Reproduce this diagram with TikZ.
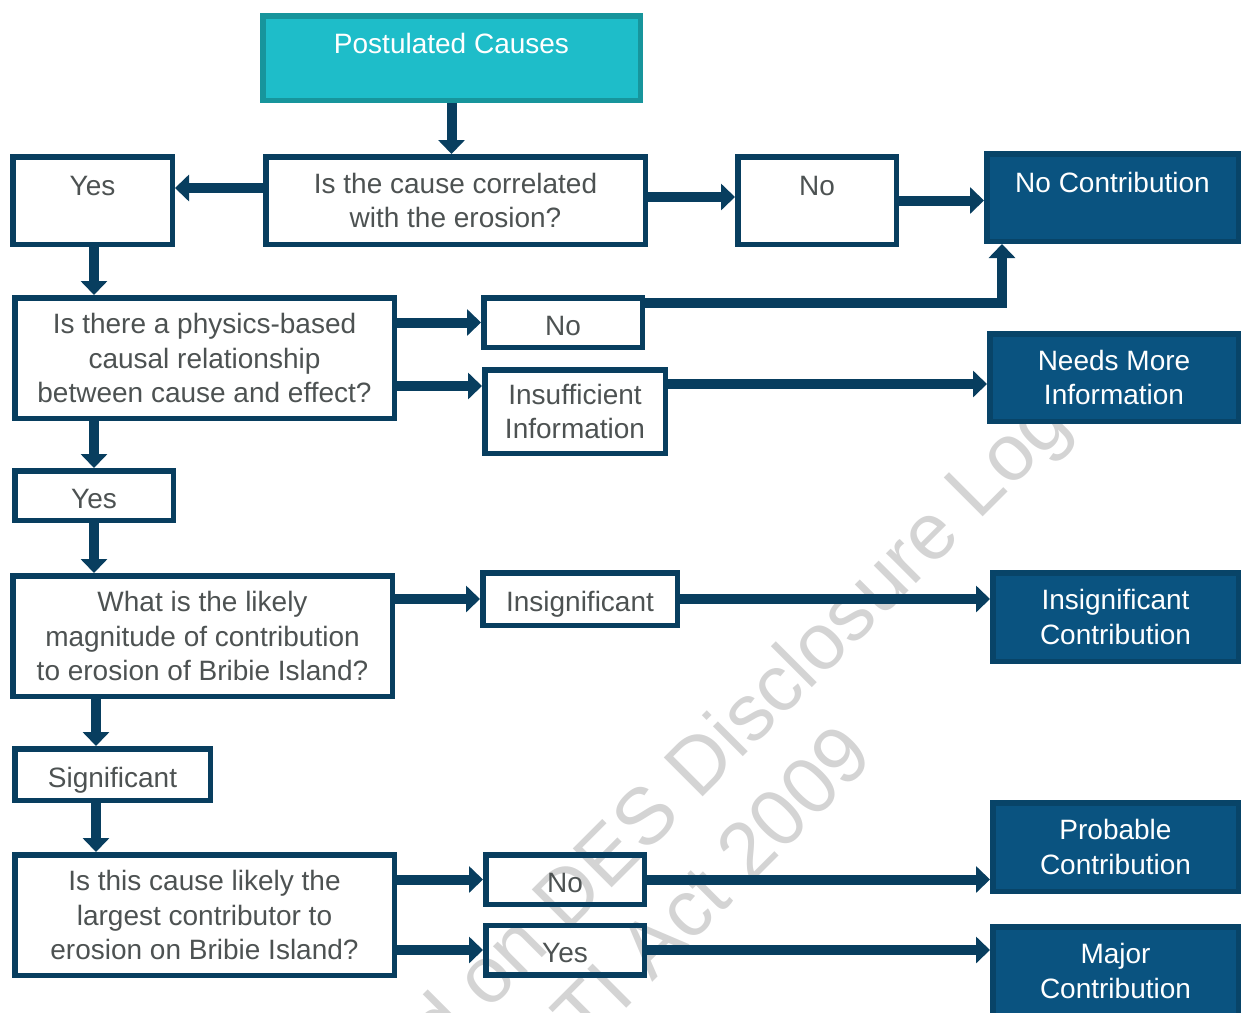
\documentclass[tikz,border=0pt]{standalone}
\usepackage{fontspec}
\setmainfont{Liberation Sans}
\usetikzlibrary{positioning,arrows.meta}
\definecolor{navy}{HTML}{083E5F}
\definecolor{deepblue}{HTML}{0A5380}
\definecolor{deepedge}{HTML}{084468}
\definecolor{cyanfill}{HTML}{1EBDC9}
\definecolor{cyanedge}{HTML}{17959C}
\definecolor{textgrey}{HTML}{4D5252}
\definecolor{markgrey}{HTML}{D4D4D4}
\newcommand\boxfont{\fontsize{28pt}{34.5pt}\selectfont}
\newcommand\stampfont{\fontsize{80pt}{95pt}\selectfont}
\tikzset{
  box/.style={draw=navy, line width=5.5pt, text=textgrey, align=center, inner sep=0pt, font=\boxfont},
  oneline/.style={text height=25pt, text depth=0pt},
  ask/.style={box, minimum width=379.5pt, minimum height=120.5pt},
  pick/.style={box, oneline, minimum width=158.5pt, minimum height=49.5pt},
  topline/.style={text height=38.25pt, text depth=49.25pt},
  verdict/.style={box, draw=deepedge, fill=deepblue, text=white, minimum width=245.5pt, minimum height=88.5pt},
  flow/.style={color=navy, line width=10pt, -{Triangle[width=26pt,length=14pt]}},
  stamp/.style={text=markgrey, font=\stampfont, rotate=45, anchor=base, inner sep=0pt}
}

\begin{document}
\begin{tikzpicture}[x=1pt,y=-1pt]
  \useasboundingbox (0,0) rectangle (1241,1012);
  \clip (0,0) rectangle (1241,1012);
  % watermark
  \node[stamp] (stamp_1) at (653.4,846.6) {Released on DES Disclosure Log};
  \node[stamp] (stamp_2) at (711.7,923.3) {RTI Act 2009};

  \node[box, fill=cyanfill, draw=cyanedge, text=white, minimum width=377.5pt,
        text height=37.25pt, text depth=47.25pt] (cause) at (451.5,58) {Postulated Causes};
  \node[box, minimum width=379.5pt, minimum height=87.5pt] (ask_1) at (455.5,200.5) {Is the cause correlated\\with the erosion?};
  \node[box, topline, minimum width=159.5pt] (yes_1) [left=88pt of ask_1] {Yes};
  \node[box, topline, minimum width=158.5pt] (no_1) [right=87pt of ask_1] {No};
  \node[verdict, topline, minimum width=251.5pt, minimum height=0pt] (none) at (1112.5,197.5) {No Contribution};

  \node[ask] (ask_2) at (204.5,358) {Is there a physics-based\\causal relationship\\between cause and effect?};
  \node[pick] (no_2) at (563,322.5) {No};
  \node[box, minimum width=180.5pt, minimum height=83.5pt] (short) at (575,411.5) {Insufficient\\Information};
  \node[verdict, minimum width=248.5pt, minimum height=87.5pt] (more) at (1114,377.5) {Needs More\\Information};
  \node[pick] (yes_2) at (94,495.5) {Yes};

  \node[ask] (ask_3) at (202.5,636) {What is the likely\\magnitude of contribution\\to erosion of Bribie Island?};
  \node[box, oneline, minimum width=194.5pt, minimum height=52.5pt] (small) at (580,599) {Insignificant};
  \node[verdict] (minor) at (1115.5,617) {Insignificant\\Contribution};
  \node[box, oneline, minimum width=195.5pt, minimum height=51.5pt] (big) at (112.5,774.5) {Significant};

  \node[ask] (ask_4) at (204.5,915) {Is this cause likely the\\largest contributor to\\erosion on Bribie Island?};
  \node[pick] (no_4) at (565,879.5) {No};
  \node[pick] (yes_4) at (565,950) {Yes};
  \node[verdict] (probable) at (1115.5,847) {Probable\\Contribution};
  \node[verdict] (major) at (1115.5,971) {Major\\Contribution};

  \path[flow]
    (cause.south) edge (cause.south |- ask_1.north)
    ([yshift=12.5pt]ask_1.west) edge ([yshift=12.5pt]yes_1.east)
    ([yshift=3.5pt]ask_1.east) edge ([yshift=3.5pt]no_1.west)
    (no_1.east) edge (no_1.east -| none.west)
    ([xshift=1.5pt]yes_1.south) edge ([xshift=1.5pt]yes_1.south |- ask_2.north)
    (no_2.west -| ask_2.east) edge (no_2.west)
    ([yshift=25.5pt]short.west -| ask_2.east) edge ([yshift=25.5pt]short.west)
    ([yshift=27.5pt]short.east) edge ([yshift=27.5pt]short.east -| more.west)
    (yes_2.north |- ask_2.south) edge (yes_2.north)
    (yes_2.south) edge (yes_2.south |- ask_3.north)
    (small.west -| ask_3.east) edge (small.west)
    (small.east) edge (small.east -| minor.west)
    ([xshift=2pt]yes_2.south |- ask_3.south) edge ([xshift=2pt]yes_2.south |- big.north)
    ([xshift=2pt]yes_2.south |- big.south) edge ([xshift=2pt]yes_2.south |- ask_4.north)
    (no_4.west -| ask_4.east) edge (no_4.west)
    (yes_4.west -| ask_4.east) edge (yes_4.west)
    (no_4.east) edge (no_4.east -| probable.west)
    (yes_4.east) edge (yes_4.east -| major.west);
  \draw[flow] ([yshift=19.5pt]no_2.east) -| ([xshift=-110.5pt]none.south);
\end{tikzpicture}
\end{document}
